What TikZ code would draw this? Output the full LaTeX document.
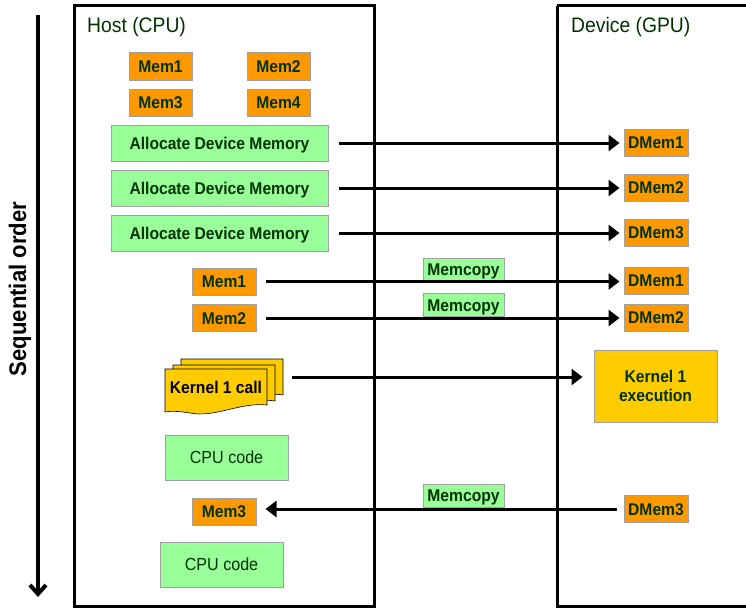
\documentclass[tikz,border=0pt]{standalone}
\usepackage{fontspec}
\setmainfont{Liberation Sans}[FakeStretch=0.92]
\usetikzlibrary{arrows.meta}
\definecolor{txtg}{RGB}{0,51,0}
\definecolor{orng}{RGB}{255,153,0}
\definecolor{lgrn}{RGB}{153,255,153}
\definecolor{ylw}{RGB}{255,204,0}
\definecolor{bgry}{RGB}{160,160,160}
\tikzset{
  boxed/.style={text=txtg, inner sep=0pt, draw=bgry, line width=1pt},
  lbl/.style={boxed, font=\fontsize{17}{19}\selectfont\bfseries, text height=12.2pt, text depth=0pt},
  mem/.style={lbl, fill=orng, minimum width=63pt, minimum height=27pt},
  dmem/.style={lbl, fill=orng, minimum width=64pt, minimum height=27pt},
  alloc/.style={lbl, fill=lgrn, minimum width=217pt, minimum height=36pt},
  mcopy/.style={lbl, fill=lgrn, minimum width=81pt, minimum height=23pt},
  cpu/.style={lbl, fill=lgrn, font=\fontsize{17.5}{19}\selectfont, minimum width=123pt, minimum height=45pt},
  frame/.style={draw=black, line width=3pt},
  conn/.style={line width=3pt, -{Triangle[length=11pt,width=16pt]}},
  page/.style={fill=ylw, draw=black, line width=0.6pt},
}
\begin{document}
\begin{tikzpicture}[x=1pt,y=-1pt]
\useasboundingbox[fill=white] (0,0) rectangle (746,610);
% frames
\draw[frame] (74,6) rectangle (374,606);
\draw[frame] (557,6) -- (750,6);
\draw[frame] (557,6) -- (557,606) -- (750,606);
\node[anchor=west, text=txtg, font=\fontsize{21}{23}\selectfont, inner sep=0pt] (host) at (87,27) {Host (CPU)};
\node[anchor=west, text=txtg, font=\fontsize{21}{23}\selectfont, inner sep=0pt] (dev) at (571,27) {Device (GPU)};
% sequential
\coordinate (s1) at (38,15);
\coordinate (s2) at (38,597);
\draw[line width=4pt, -{Straight Barb[length=9pt,width=16pt,line width=4pt]}] (s1) -- (s2);
\node[rotate=90, font=\fontsize{24}{26}\selectfont\bfseries, inner sep=0pt] (seq) at (20,289) {Sequential order};
% host memories
\node[mem] (m1) at (160.5,66.5) {Mem1};
\node[mem] (m2) at (278.5,66.5) {Mem2};
\node[mem] (m3) at (160.5,102.5) {Mem3};
\node[mem] (m4) at (278.5,102.5) {Mem4};
% allocate
\node[alloc] (a1) at (219.5,143) {Allocate Device Memory};
\node[alloc] (a2) at (219.5,188) {Allocate Device Memory};
\node[alloc] (a3) at (219.5,233) {Allocate Device Memory};
\node[dmem] (d1) at (656,142.5) {DMem1};
\node[dmem] (d2) at (656,187.5) {DMem2};
\node[dmem] (d3) at (656,232.5) {DMem3};
\draw[conn, shorten <=10pt, shorten >=4pt] (a1.east) -- (d1.west |- a1.east);
\draw[conn, shorten <=10pt, shorten >=4pt] (a2.east) -- (d2.west |- a2.east);
\draw[conn, shorten <=10pt, shorten >=4pt] (a3.east) -- (d3.west |- a3.east);
% memcopies
\node[mem, minimum width=64pt] (hm1) at (224,281.5) {Mem1};
\node[mem, minimum width=64pt] (hm2) at (224,318) {Mem2};
\node[dmem] (dd1) at (656,280.5) {DMem1};
\node[dmem] (dd2) at (656,317.5) {DMem2};
\node[mcopy] (mc1) at (463.5,269.5) {Memcopy};
\node[mcopy] (mc2) at (463.5,305) {Memcopy};
\draw[conn, shorten <=9pt, shorten >=4pt] (hm1.east) -- (dd1.west |- hm1.east);
\draw[conn, shorten <=9pt, shorten >=4pt] (hm2.east) -- (dd2.west |- hm2.east);
% kernel call (document stack)
\draw[page] (181,359) -- (283,359) -- (283,395) .. controls (265,392) and (240,398) .. (224,399) -- (181,397) -- cycle;
\draw[page] (173,365) -- (275,365) -- (275,401) .. controls (257,398) and (232,404) .. (216,405) -- (173,403) -- cycle;
\draw[page] (165,369) -- (267,369) -- (267,405) .. controls (240,402) and (215,418) .. (190,413) .. controls (178,411) and (170,411) .. (165,412) -- cycle;
\node[inner sep=0pt, minimum width=102pt, minimum height=36pt] (kback) at (232,377) {};
\node[font=\fontsize{17}{19}\selectfont\bfseries, inner sep=0pt, text height=12.2pt, text depth=0pt] (kcall) at (216,387) {Kernel 1 call};
\node[boxed, fill=ylw, minimum width=123pt, minimum height=72pt, align=center, font=\fontsize{17}{19}\selectfont\bfseries] (kexe) at (655.5,386) {Kernel 1\\execution};
\draw[conn, shorten <=9pt, shorten >=11pt] (kback.east) -- (kexe.west |- kback.east);
% cpu code
\node[cpu] (c1) at (226.5,457.5) {CPU code};
\node[mem, minimum width=64pt] (hm3) at (224,511.5) {Mem3};
\node[dmem] (dd3) at (656,509) {DMem3};
\node[mcopy] (mc3) at (463.5,495.5) {Memcopy};
\draw[conn, shorten <=7pt, shorten >=9pt] (dd3.west) -- (hm3.east |- dd3.west);
\node[cpu] (c2) at (221.5,564.5) {CPU code};
\end{tikzpicture}
\end{document}
